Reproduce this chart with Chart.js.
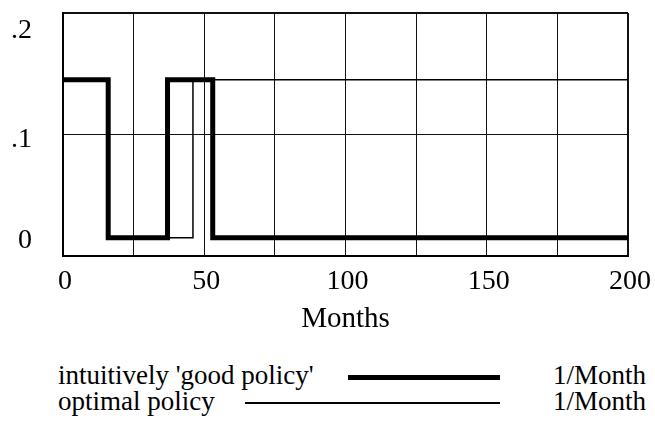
<!DOCTYPE html>
<html>
<head>
<meta charset="utf-8">
<script src="https://cdn.jsdelivr.net/npm/chart.js@4/dist/chart.umd.min.js"></script>
<style>
  body { margin: 0; background: #fff; }
  #wrap { position: relative; width: 655px; height: 423px; font-family: 'Liberation Serif', 'Times New Roman', serif; color: #000; overflow: hidden; }
  #chart { position: absolute; left: 0; top: 0; }
  .legend-row { position: absolute; left: 0; width: 655px; height: 28px; font-size: 27px; line-height: 28px; white-space: nowrap; }
  .legend-row span { position: absolute; top: 0; }
  .legend-row .sample { position: absolute; background: #000; }
</style>
</head>
<body>
<div id="wrap">
  <canvas id="chart" width="655" height="345"></canvas>
  <div id="legend"></div>
</div>
<script>
// series data (months -> 1/Month)
const goodMonths = [0, 16, 16, 37, 37, 53, 53, 200];
const goodRate = [0.145, 0.145, 0.015, 0.015, 0.145, 0.145, 0.015, 0.015];
const optimalMonths = [0, 16, 16, 46, 46, 200];
const optimalRate = [0.145, 0.145, 0.015, 0.015, 0.145, 0.145];

const seriesNames = ["intuitively 'good policy'", 'optimal policy'];
const seriesUnits = ['1/Month', '1/Month'];

const xLabeledTicks = [0, 50, 100, 150, 200];
const xTickLabels = ['0', '50', '100', '150', '200'];
const yLabeledTicks = [0, 0.1, 0.2];
const yTickLabels = ['0', '.1', '.2'];

const toPoints = (xs, ys) => xs.map((x, i) => ({ x: x, y: ys[i] }));

const edgeWidth = (ctx, max) => (ctx.index === 0 || Math.abs(ctx.tick.value - max) < 1e-9) ? 2 : 1;

// y labels sit a little inside the frame: a blank line plus a per-tick line height nudges them
const yLabelIndex = (value) => yLabeledTicks.findIndex(v => Math.abs(v - value) < 1e-9);
const yLabelNudge = [30, 10, 36];

const chart = new Chart(document.getElementById('chart'), {
    type: 'line',
    data: {
        datasets: [{
            label: seriesNames[0],
            data: toPoints(goodMonths, goodRate),
            borderColor: '#000',
            borderWidth: 5,
            pointRadius: 0,
            tension: 0
        }, {
            label: seriesNames[1],
            data: toPoints(optimalMonths, optimalRate),
            borderColor: '#000',
            borderWidth: 1.5,
            pointRadius: 0,
            tension: 0
        }]
    },
    options: {
        responsive: false,
        animation: false,
        layout: { padding: { top: 13, right: 27, left: 0, bottom: 0 } },
        plugins: { legend: { display: false }, tooltip: { enabled: false } },
        scales: {
            x: {
                type: 'linear',
                min: 0,
                max: 200,
                ticks: {
                    stepSize: 25,
                    maxRotation: 0,
                    autoSkip: false,
                    padding: 9,
                    labelOffset: 2,
                    color: '#000',
                    font: { family: 'Liberation Serif', size: 28 },
                    callback: (value) => {
                        const i = xLabeledTicks.indexOf(value);
                        return i < 0 ? '' : xTickLabels[i];
                    }
                },
                grid: {
                    color: '#111',
                    lineWidth: (ctx) => edgeWidth(ctx, 200),
                    drawTicks: false
                },
                border: { color: '#000', width: 2 },
                title: {
                    display: true,
                    text: 'Months',
                    color: '#000',
                    font: { family: 'Liberation Serif', size: 29 },
                    padding: { top: 0, bottom: 8 }
                },
                afterFit: (scale) => {
                    scale.height = 89;
                    scale.paddingLeft = 0;
                    scale.paddingRight = 0;
                }
            },
            y: {
                min: 0,
                max: 0.2,
                ticks: {
                    stepSize: 0.05,
                    padding: 31,
                    color: '#000',
                    font: (ctx) => {
                        const i = ctx.tick ? yLabelIndex(ctx.tick.value) : -1;
                        return { family: 'Liberation Serif', size: 28, lineHeight: (i < 0 ? 34 : yLabelNudge[i]) + 'px' };
                    },
                    callback: (value) => {
                        const i = yLabelIndex(value);
                        if (i < 0) return '';
                        if (i === 0) return [yTickLabels[i], ''];
                        return ['', yTickLabels[i]];
                    }
                },
                grid: {
                    color: '#111',
                    lineWidth: (ctx) => edgeWidth(ctx, 0.2),
                    drawTicks: false
                },
                border: { color: '#000', width: 2 },
                afterFit: (scale) => {
                    scale.width = 63;
                    scale.paddingTop = 0;
                    scale.paddingBottom = 0;
                }
            }
        }
    }
});

// legend: name, line sample, unit
const legendRows = [
    { top: 361, lineLeft: 348, lineWidth: 5 },
    { top: 387, lineLeft: 245, lineWidth: 1.5 }
];
const legend = document.getElementById('legend');
chart.data.datasets.forEach((ds, i) => {
    const row = document.createElement('div');
    row.className = 'legend-row';
    row.style.top = legendRows[i].top + 'px';
    row.innerHTML = `
        <span style="left:58px">${ds.label}</span>
        <div class="sample" style="left:${legendRows[i].lineLeft}px; width:${500 - legendRows[i].lineLeft}px; top:${16 - legendRows[i].lineWidth / 2}px; height:${legendRows[i].lineWidth}px"></div>
        <span style="left:553px">${seriesUnits[i]}</span>
    `;
    legend.appendChild(row);
});
</script>
</body>
</html>
